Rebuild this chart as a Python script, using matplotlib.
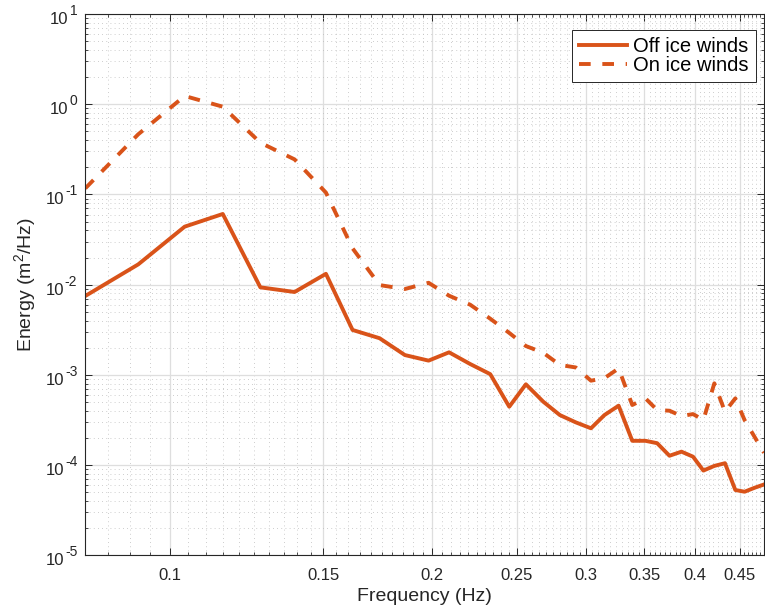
import numpy as np
import matplotlib
matplotlib.use("Agg")
import matplotlib.pyplot as plt
from matplotlib.ticker import FixedLocator, NullFormatter, LogLocator
from matplotlib.transforms import offset_copy

# Spectra for the two wind regimes
freq = [0.080, 0.092, 0.104, 0.115, 0.127, 0.139, 0.151, 0.162, 0.174, 0.186,
        0.198, 0.209, 0.221, 0.233, 0.245, 0.256, 0.268, 0.280, 0.292, 0.304,
        0.315, 0.327, 0.339, 0.351, 0.362, 0.374, 0.386, 0.398, 0.409, 0.421,
        0.433, 0.445, 0.456, 0.468, 0.480]

off_ice = [0.0075, 0.0168, 0.044, 0.0608, 0.00935, 0.0083, 0.0132, 0.00315,
           0.00255, 0.00166, 0.00144, 0.00178, 0.00132, 0.00102, 0.000444,
           0.000787, 0.000505, 0.000359, 0.000298, 0.000256, 0.000359,
           0.000456, 0.000186, 0.000186, 0.000175, 0.000127, 0.000141,
           0.000124, 8.7e-5, 9.8e-5, 1.05e-4, 5.3e-5, 5.07e-5, 5.6e-5, 6.1e-5]

on_ice = [0.117, 0.465, 1.236, 0.94, 0.375, 0.245, 0.105, 0.0253, 0.0099,
          0.00896, 0.0105, 0.00755, 0.0060, 0.0042, 0.00292, 0.00209, 0.00176,
          0.00129, 0.00121, 0.000863, 0.00092, 0.00118, 0.000464, 0.00055,
          0.000408, 0.000401, 0.00035, 0.000368, 0.000316, 0.000807, 0.000391,
          0.00055, 0.000316, 0.000207, 0.000137]

xticks = [0.1, 0.15, 0.2, 0.25, 0.3, 0.35, 0.4, 0.45]
xticklabels = ['0.1', '0.15', '0.2', '0.25', '0.3', '0.35', '0.4', '0.45']
ydecades = [-5, -4, -3, -2, -1, 0, 1]

plt.rcParams['font.family'] = ['Liberation Sans', 'DejaVu Sans']
plt.rcParams['mathtext.fontset'] = 'custom'
plt.rcParams['mathtext.rm'] = 'Liberation Sans'

line_col = '#D95319'
ax_col = '#262626'

fig = plt.figure(figsize=(7.65, 6.12), dpi=100)
ax = fig.add_axes([0.1115, 0.0926, 0.8872, 0.8844])

ax.plot(freq, off_ice, color=line_col, lw=2.8, label='Off ice winds')
ax.plot(freq, on_ice, color=line_col, lw=2.8, ls=(0, (3, 3)), label='On ice winds')

ax.set_xscale('log')
ax.set_yscale('log')
ax.set_xlim(0.08, 0.48)
ax.set_ylim(1e-5, 10)

ax.xaxis.set_major_locator(FixedLocator(xticks))
ax.set_xticklabels(xticklabels)
ax.xaxis.set_minor_locator(FixedLocator(np.arange(0.08, 0.4801, 0.005)))
ax.xaxis.set_minor_formatter(NullFormatter())
ax.yaxis.set_major_locator(FixedLocator([10.0 ** e for e in ydecades]))
ax.yaxis.set_major_formatter(NullFormatter())
ax.yaxis.set_minor_locator(LogLocator(base=10, subs=np.arange(2, 10), numticks=20))
ax.yaxis.set_minor_formatter(NullFormatter())

ax.grid(True, which='major', color='#dedede', lw=0.9, ls='-')
ax.grid(True, which='minor', color='#bdbdbd', lw=0.6, ls=(0, (1, 4)))
ax.set_axisbelow(True)

ax.tick_params(which='both', direction='in', top=True, right=True,
               colors=ax_col, labelsize=12)
ax.tick_params(axis='x', which='major', pad=9)
ax.tick_params(which='major', length=5, width=0.7)
ax.tick_params(which='minor', length=2.5, width=0.6)
for s in ax.spines.values():
    s.set_color(ax_col)
    s.set_linewidth(0.8)

# y tick labels as 10 with a raised exponent
fig.canvas.draw()
renderer = fig.canvas.get_renderer()
ytr = ax.get_yaxis_transform()
for e in ydecades:
    v = 10.0 ** e
    et = ax.text(0, v, str(e), fontsize=10, color=ax_col, ha='right', va='baseline',
                 transform=offset_copy(ytr, fig=fig, x=-8, y=-1, units='dots'))
    w = et.get_window_extent(renderer).width
    ax.text(0, v, '10', fontsize=12, color=ax_col, ha='right', va='baseline',
            transform=offset_copy(ytr, fig=fig, x=-9 - w, y=-10, units='dots'))

ax.set_xlabel('Frequency (Hz)', fontsize=14, color=ax_col, labelpad=4)
ax.set_ylabel('Energy (m$^2$/Hz)', fontsize=14, color=ax_col, labelpad=30)

leg = ax.legend(loc='upper right', fontsize=14.5, frameon=True, fancybox=False,
                handlelength=2.4, borderpad=0.35, labelspacing=0.0,
                handletextpad=0.3, borderaxespad=0,
                bbox_to_anchor=(756 / 765, 1 - 30 / 612),
                bbox_transform=fig.transFigure)
leg.get_frame().set_edgecolor(ax_col)
leg.get_frame().set_linewidth(0.7)
leg.get_frame().set_alpha(1)

fig.savefig('out.png', dpi=100)
